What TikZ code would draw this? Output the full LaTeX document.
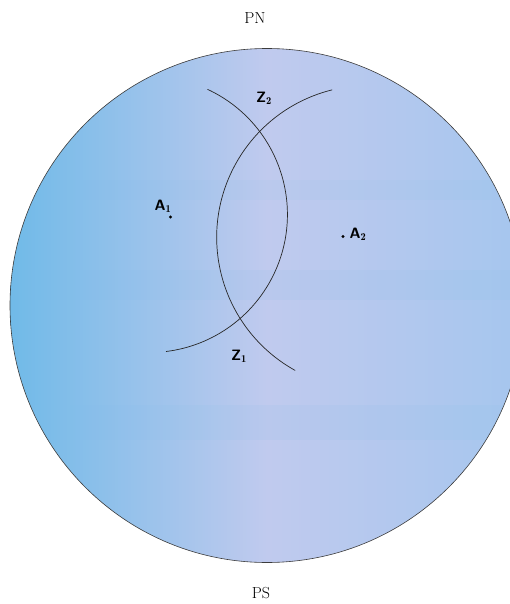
\documentclass[tikz,border=0pt]{standalone}
\usepackage{fontspec}
\definecolor{skyleft}{RGB}{112,186,232}
\definecolor{lavmid}{RGB}{192,202,238}
\definecolor{skyright}{RGB}{165,198,238}
\definecolor{bandblue}{RGB}{130,190,235}
\definecolor{rimgray}{RGB}{60,60,60}
\tikzset{
  poletext/.style={font=\fontsize{16}{19}\selectfont},
  pointtext/.style={font=\sffamily\bfseries\fontsize{15}{17}\selectfont, inner sep=1pt},
  bisect/.style={draw=black!85, line width=0.7pt},
}
\begin{document}
\begin{tikzpicture}[x=1pt, y=-1pt, line cap=round]
    \useasboundingbox (0,0) rectangle (510,604);

    % ---- the globe ----
    \begin{scope}
        \clip (0,0) rectangle (510,604);
        \shade[left color=skyleft, right color=skyright, middle color=lavmid]
            (267,305.5) circle (257);
        \begin{scope}
            \clip (267,305.5) circle (257);
            % faint horizontal streaks
            \fill[bandblue, opacity=0.10] (0,270) rectangle (510,300);
            \fill[bandblue, opacity=0.10] (0,405) rectangle (510,440);
            \fill[bandblue, opacity=0.08] (0,180) rectangle (510,200);
        \end{scope}
        \draw[rimgray, line width=0.6pt] (267,305.5) circle (257);
    \end{scope}

    % ---- poles ----
    \node[poletext] (pn) at (255,18) {PN};
    \node[poletext] (ps) at (261,593) {PS};

    % ---- the two arcs ----
    \draw[bisect] ([shift={(-65:138)}]149.4,214.5) arc (-65:83:138);
    \draw[bisect] ([shift={(256:152)}]368.7,237.4) arc (256:119:152);

    % ---- points ----
    \fill (170.5,217) circle (1.7pt) coordinate (a1);
    \fill (343,236.5) circle (1.7pt) coordinate (a2);
    \node[pointtext] (a1lab) at (163,206) {A$_{\mathbf 1}$};
    \node[pointtext] (a2lab) at (358,234) {A$_{\mathbf 2}$};

    % ---- intersection labels ----
    \node[pointtext] (z2) at (264,98) {Z$_{\mathbf 2}$};
    \node[pointtext] (z1) at (239,356) {Z$_{\mathbf 1}$};
\end{tikzpicture}
\end{document}
